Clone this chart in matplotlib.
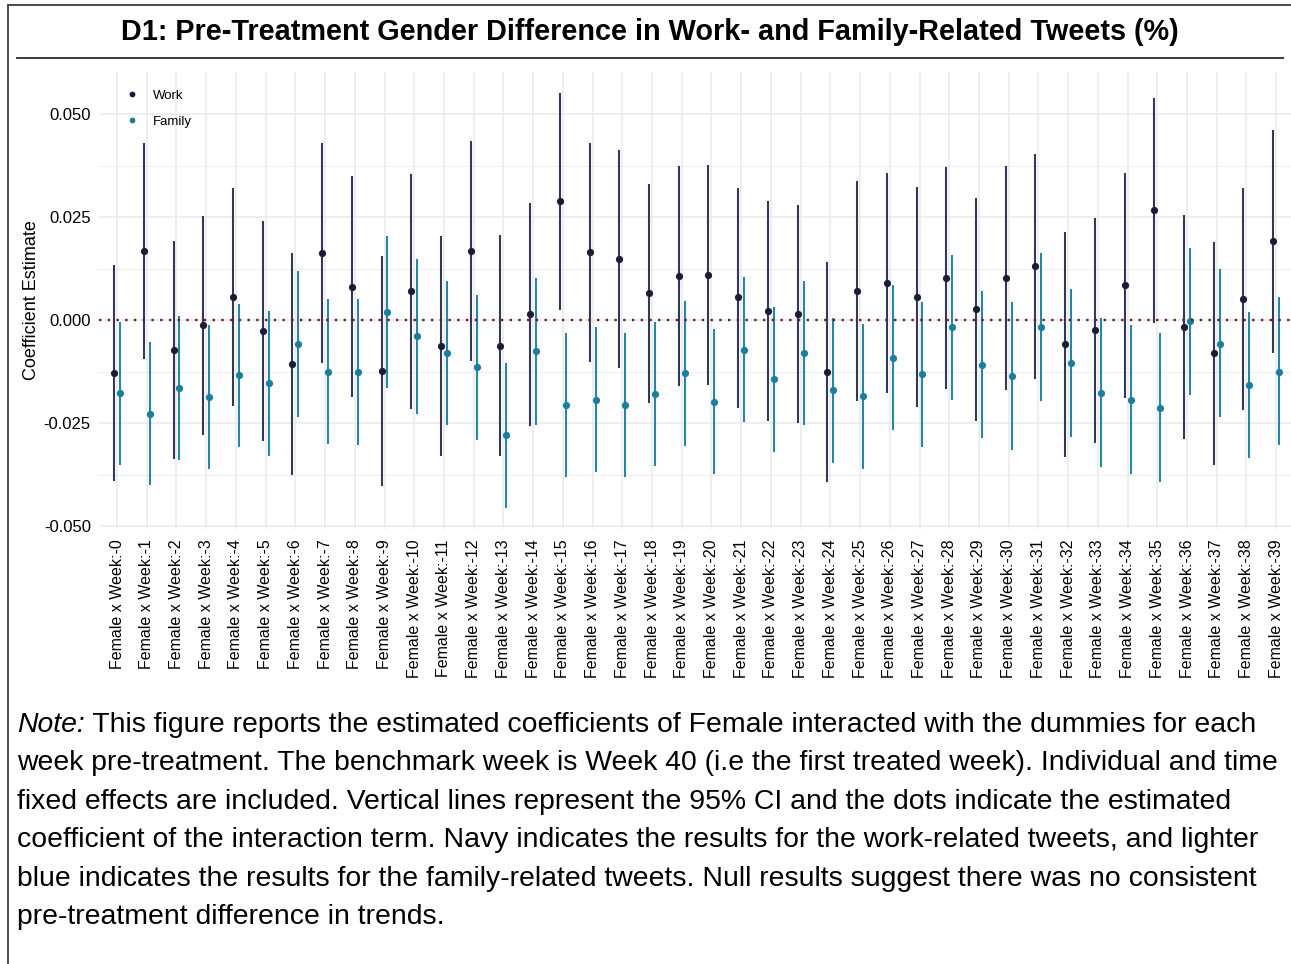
import matplotlib
matplotlib.use("Agg")
import matplotlib.pyplot as plt
from matplotlib.lines import Line2D
from matplotlib.ticker import MultipleLocator
import numpy as np

plt.rcParams['font.family'] = ['Liberation Sans', 'DejaVu Sans']

weeks = [f"Female x Week:-{i}" for i in range(40)]

work_est = [-0.0128, 0.0168, -0.0073, -0.0013, 0.0056, -0.0027, -0.0107, 0.0163, 0.0081, -0.0123,
            0.0070, -0.0063, 0.0167, -0.0062, 0.0014, 0.0288, 0.0165, 0.0148, 0.0065, 0.0108,
            0.0109, 0.0055, 0.0023, 0.0015, -0.0127, 0.0070, 0.0091, 0.0055, 0.0103, 0.0026,
            0.0103, 0.0131, -0.0059, -0.0025, 0.0085, 0.0266, -0.0016, -0.0081, 0.0051, 0.0191]
work_lo = [-0.0390, -0.0095, -0.0337, -0.0278, -0.0208, -0.0293, -0.0375, -0.0104, -0.0188, -0.0402,
           -0.0215, -0.0330, -0.0100, -0.0330, -0.0258, 0.0024, -0.0101, -0.0117, -0.0201, -0.0159,
           -0.0157, -0.0213, -0.0244, -0.0251, -0.0394, -0.0196, -0.0176, -0.0211, -0.0167, -0.0246,
           -0.0171, -0.0142, -0.0333, -0.0298, -0.0190, -0.0007, -0.0288, -0.0352, -0.0219, -0.0081]
work_hi = [0.0134, 0.0430, 0.0192, 0.0252, 0.0320, 0.0240, 0.0162, 0.0429, 0.0349, 0.0156,
           0.0354, 0.0204, 0.0434, 0.0206, 0.0284, 0.0551, 0.0430, 0.0413, 0.0329, 0.0374,
           0.0376, 0.0321, 0.0289, 0.0280, 0.0140, 0.0337, 0.0357, 0.0322, 0.0371, 0.0296,
           0.0375, 0.0402, 0.0213, 0.0248, 0.0358, 0.0540, 0.0254, 0.0189, 0.0321, 0.0462]
fam_est = [-0.0178, -0.0227, -0.0164, -0.0187, -0.0134, -0.0153, -0.0058, -0.0126, -0.0126, 0.0020,
           -0.0039, -0.0081, -0.0115, -0.0280, -0.0076, -0.0206, -0.0193, -0.0207, -0.0180, -0.0129,
           -0.0198, -0.0072, -0.0143, -0.0080, -0.0169, -0.0184, -0.0091, -0.0132, -0.0018, -0.0108,
           -0.0136, -0.0016, -0.0104, -0.0176, -0.0193, -0.0213, -0.0003, -0.0057, -0.0158, -0.0125]
fam_lo = [-0.0352, -0.0400, -0.0339, -0.0362, -0.0309, -0.0329, -0.0235, -0.0302, -0.0303, -0.0164,
          -0.0227, -0.0256, -0.0290, -0.0456, -0.0255, -0.0380, -0.0369, -0.0382, -0.0354, -0.0306,
          -0.0374, -0.0248, -0.0320, -0.0256, -0.0346, -0.0361, -0.0268, -0.0307, -0.0195, -0.0287,
          -0.0316, -0.0196, -0.0283, -0.0356, -0.0374, -0.0393, -0.0182, -0.0235, -0.0336, -0.0303]
fam_hi = [-0.0006, -0.0054, 0.0010, -0.0012, 0.0039, 0.0023, 0.0119, 0.0050, 0.0050, 0.0205,
          0.0148, 0.0095, 0.0061, -0.0104, 0.0103, -0.0032, -0.0018, -0.0032, -0.0006, 0.0046,
          -0.0023, 0.0104, 0.0032, 0.0095, 0.0006, -0.0010, 0.0084, 0.0044, 0.0159, 0.0071,
          0.0044, 0.0163, 0.0076, 0.0004, -0.0013, -0.0032, 0.0175, 0.0123, 0.0020, 0.0055]

title = "D1: Pre-Treatment Gender Difference in Work- and Family-Related Tweets (%)"
note_lines = [
    "This figure reports the estimated coefficients of Female interacted with the dummies for each",
    "week pre-treatment. The benchmark week is Week 40 (i.e the first treated week). Individual and time",
    "fixed effects are included. Vertical lines represent the 95% CI and the dots indicate the estimated",
    "coefficient of the interaction term. Navy indicates the results for the work-related tweets, and lighter",
    "blue indicates the results for the family-related tweets. Null results suggest there was no consistent",
    "pre-treatment difference in trends.",
]

W, H = 1291, 964
fig = plt.figure(figsize=(W / 100, H / 100), dpi=100)
fig.patch.set_facecolor('white')

def fx(px):
    return px / W

def fy(py):
    return 1 - py / H

ax_left, ax_right, ax_top, ax_bot = 99.2, 1294.0, 72.4, 528.5
ax = fig.add_axes([fx(ax_left), fy(ax_bot), fx(ax_right - ax_left), (ax_bot - ax_top) / H])

work_pt = '#1b1c38'
work_ln = '#34375a'
fam_pt = '#1a7f9c'
fam_ln = '#2587a3'

x = np.arange(len(weeks))
d = 0.1
ax.vlines(x - d, work_lo, work_hi, color=work_ln, lw=1.5, zorder=3)
ax.vlines(x + d, fam_lo, fam_hi, color=fam_ln, lw=1.5, zorder=3)
ax.plot(x - d, work_est, 'o', color=work_pt, ms=5.2, zorder=4, label='Work', markeredgewidth=0)
ax.plot(x + d, fam_est, 'o', color=fam_pt, ms=5.2, zorder=4, label='Family', markeredgewidth=0)
ax.axhline(0, color='#6e1a30', lw=1.7, ls=(0, (1, 2.7)), zorder=5)

ax.set_xlim(-0.6, len(weeks) - 1 + 0.6)
ax.set_ylim(-0.0506, 0.0601)
ax.set_xticks(x)
ax.set_xticklabels(weeks, rotation=90, fontsize=11.5, color='black', va='top', ha='center')
ax.yaxis.set_major_locator(MultipleLocator(0.025))
ax.yaxis.set_minor_locator(MultipleLocator(0.0125))
ax.set_yticks([-0.05, -0.025, 0, 0.025, 0.05])
ax.set_yticklabels(['-0.050', '-0.025', '0.000', '0.025', '0.050'], fontsize=12, color='black')
ax.tick_params(axis='both', which='both', length=0)
ax.tick_params(axis='x', pad=8)
ax.tick_params(axis='y', pad=6)
ax.grid(True, which='major', color='#ebebeb', lw=1.2, zorder=0)
ax.grid(True, which='minor', axis='y', color='#ebebeb', lw=0.6, zorder=0)
ax.set_axisbelow(True)
for s in ax.spines.values():
    s.set_visible(False)
ax.set_facecolor('white')

fig.text(fx(32), fy(300), "Coefficient Estimate", rotation=90, fontsize=13,
         ha='center', va='center')

leg = ax.legend(loc='upper left',
                bbox_to_anchor=((120 - ax_left) / (ax_right - ax_left), (ax_bot - 84) / (ax_bot - ax_top)),
                frameon=False, fontsize=9.5, handletextpad=1.1, labelspacing=1.05,
                handlelength=1.0, borderaxespad=0, markerscale=0.8)

# title
fig.text(fx(650), fy(32), title, fontsize=20.8, fontweight='bold', ha='center', va='center')

# frame lines
fig.add_artist(Line2D([fx(8), 1], [fy(5), fy(5)], color='#4a4a4a', lw=1.4))
fig.add_artist(Line2D([fx(8), fx(8)], [fy(5), 0], color='#4a4a4a', lw=1.4))
fig.add_artist(Line2D([fx(17), fx(1283)], [fy(58), fy(58)], color='#3a3a3a', lw=1.4))

# note
ys = [725, 763, 802, 840, 879, 917]
note_fs = 20.4
t0 = fig.text(fx(17), fy(ys[0]), "Note:", fontsize=note_fs, fontstyle='italic', ha='left', va='center')
ax.annotate(" " + note_lines[0], xy=(1, 0), xycoords=t0, fontsize=note_fs, ha='left', va='bottom',
            annotation_clip=False)
for line, yy in zip(note_lines[1:], ys[1:]):
    fig.text(fx(17), fy(yy), line, fontsize=note_fs, ha='left', va='center')

fig.savefig('out.png', dpi=100)
